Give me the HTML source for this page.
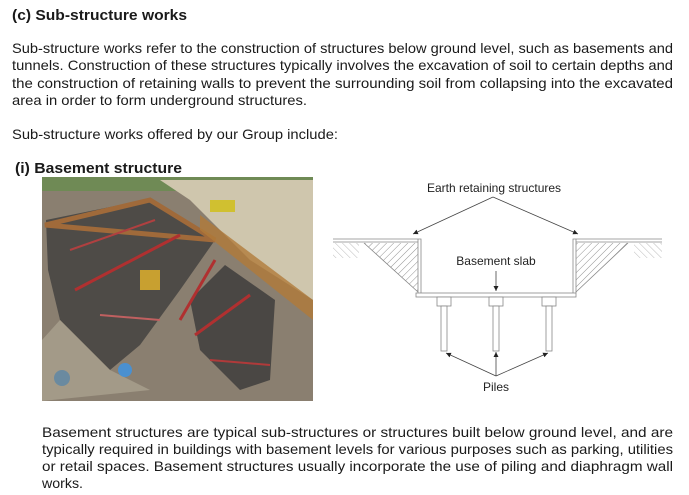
<!DOCTYPE html>
<html><head><meta charset="utf-8"><style>
html,body{margin:0;padding:0;background:#fff;width:689px;height:495px;overflow:hidden}
svg{display:block}
text{font-family:"Liberation Sans",Arial,sans-serif;fill:#1a1a1a}
.b{font-size:14px}
.h{font-size:14.5px;font-weight:bold}
.s{font-size:12px;fill:#222}
</style></head><body>
<svg width="689" height="495" viewBox="0 0 689 495" xmlns="http://www.w3.org/2000/svg">
<defs>
<pattern id="hat" width="5" height="5" patternUnits="userSpaceOnUse" patternTransform="rotate(45)">
<line x1="0" y1="0" x2="0" y2="5" stroke="#777" stroke-width="0.8"/>
</pattern>
<pattern id="hat2" width="5" height="5" patternUnits="userSpaceOnUse" patternTransform="rotate(-45)">
<line x1="0" y1="0" x2="0" y2="5" stroke="#aaa" stroke-width="0.8"/>
</pattern>
<marker id="ar" markerWidth="6" markerHeight="6" refX="5" refY="3" orient="auto" markerUnits="userSpaceOnUse">
<path d="M0,0.5 L5,3 L0,5.5z" fill="#222"/>
</marker>
</defs>

<text class="h" x="12" y="20" textLength="175" lengthAdjust="spacingAndGlyphs">(c)   Sub-structure works</text>
<text class="b" x="12" y="53" textLength="661" lengthAdjust="spacingAndGlyphs">Sub-structure works refer to the construction of structures below ground level, such as basements and</text>
<text class="b" x="12" y="70" textLength="661" lengthAdjust="spacingAndGlyphs">tunnels. Construction of these structures typically involves the excavation of soil to certain depths and</text>
<text class="b" x="12" y="88" textLength="661" lengthAdjust="spacingAndGlyphs">the construction of retaining walls to prevent the surrounding soil from collapsing into the excavated</text>
<text class="b" x="12" y="105" textLength="295" lengthAdjust="spacingAndGlyphs">area in order to form underground structures.</text>
<text class="b" x="12" y="139" textLength="326" lengthAdjust="spacingAndGlyphs">Sub-structure works offered by our Group include:</text>
<text class="h" x="15" y="173" textLength="167" lengthAdjust="spacingAndGlyphs">(i)  Basement structure</text>

<!-- photo -->
<g>
<rect x="42" y="177" width="271" height="224" fill="#8a7f70"/>
<rect x="42" y="177" width="271" height="14" fill="#6f8a55"/>
<polygon points="160,180 313,180 313,300 250,260 190,200" fill="#cfc6ad"/>
<polygon points="46,220 145,200 215,240 180,290 140,345 110,370 60,320 48,270" fill="#4e4b47"/>
<polygon points="190,300 225,265 275,300 270,380 240,390 200,350" fill="#4a4744"/>
<polygon points="42,340 60,320 110,370 150,390 42,401" fill="#a39a88"/>
<polygon points="45,225 150,200 215,240" fill="none" stroke="#a06a3a" stroke-width="5"/>
<polygon points="200,215 313,300 313,320 200,230" fill="#b07a3a" opacity="0.8"/>
<line x1="75" y1="290" x2="180" y2="235" stroke="#b03030" stroke-width="3"/>
<line x1="70" y1="250" x2="155" y2="220" stroke="#b04040" stroke-width="2"/>
<line x1="180" y1="320" x2="215" y2="260" stroke="#b03030" stroke-width="3"/>
<line x1="195" y1="335" x2="250" y2="295" stroke="#b03030" stroke-width="3"/>
<line x1="210" y1="360" x2="270" y2="365" stroke="#b03a3a" stroke-width="2"/>
<line x1="100" y1="315" x2="160" y2="320" stroke="#c06060" stroke-width="2"/>
<rect x="140" y="270" width="20" height="20" fill="#c8a030"/>
<rect x="210" y="200" width="25" height="12" fill="#d0c030"/>
<circle cx="125" cy="370" r="7" fill="#4a90d0"/>
<circle cx="62" cy="378" r="8" fill="#6a8aa0"/>
</g>

<!-- diagram -->
<text class="s" x="494" y="192" text-anchor="middle">Earth retaining structures</text>
<line x1="493" y1="197" x2="413" y2="234" stroke="#444" stroke-width="0.8" marker-end="url(#ar)"/>
<line x1="493" y1="197" x2="578" y2="234" stroke="#444" stroke-width="0.8" marker-end="url(#ar)"/>

<polygon points="364,243 418,243 418,292" fill="url(#hat)"/>
<polygon points="576,243 628,243 576,292" fill="url(#hat)"/>
<line x1="364" y1="243" x2="418" y2="292" stroke="#888" stroke-width="0.8"/>
<line x1="628" y1="243" x2="576" y2="292" stroke="#888" stroke-width="0.8"/>
<rect x="333" y="243" width="26" height="15" fill="url(#hat2)"/>
<rect x="634" y="243" width="28" height="15" fill="url(#hat2)"/>

<g fill="none" stroke="#888" stroke-width="0.8">
<path d="M333,239 H421 V293 M333,242 H418"/>
<path d="M662,239 H573 V293 M662,242 H576"/>
</g>
<g fill="#fff" stroke="#888" stroke-width="0.8">
<rect x="416" y="293" width="160" height="4"/>
<rect x="437" y="297" width="14" height="9"/>
<rect x="489" y="297" width="14" height="9"/>
<rect x="542" y="297" width="14" height="9"/>
<rect x="441" y="306" width="6" height="45"/>
<rect x="493" y="306" width="6" height="45"/>
<rect x="546" y="306" width="6" height="45"/>
</g>
<line x1="418" y1="239" x2="418" y2="293" stroke="#888" stroke-width="0.8"/>
<line x1="576" y1="239" x2="576" y2="293" stroke="#888" stroke-width="0.8"/>

<text class="s" x="496" y="265" text-anchor="middle">Basement slab</text>
<line x1="496" y1="271" x2="496" y2="291" stroke="#444" stroke-width="0.8" marker-end="url(#ar)"/>

<line x1="496" y1="376" x2="446" y2="353" stroke="#444" stroke-width="0.8" marker-end="url(#ar)"/>
<line x1="496" y1="376" x2="496" y2="352" stroke="#444" stroke-width="0.8" marker-end="url(#ar)"/>
<line x1="496" y1="376" x2="548" y2="353" stroke="#444" stroke-width="0.8" marker-end="url(#ar)"/>
<text class="s" x="496" y="391" text-anchor="middle">Piles</text>

<text class="b" x="42" y="437" textLength="631" lengthAdjust="spacingAndGlyphs">Basement structures are typical sub-structures or structures built below ground level, and are</text>
<text class="b" x="42" y="454" textLength="631" lengthAdjust="spacingAndGlyphs">typically required in buildings with basement levels for various purposes such as parking, utilities</text>
<text class="b" x="42" y="471" textLength="631" lengthAdjust="spacingAndGlyphs">or retail spaces. Basement structures usually incorporate the use of piling and diaphragm wall</text>
<text class="b" x="42" y="488" textLength="41" lengthAdjust="spacingAndGlyphs">works.</text>
</svg>
</body></html>
